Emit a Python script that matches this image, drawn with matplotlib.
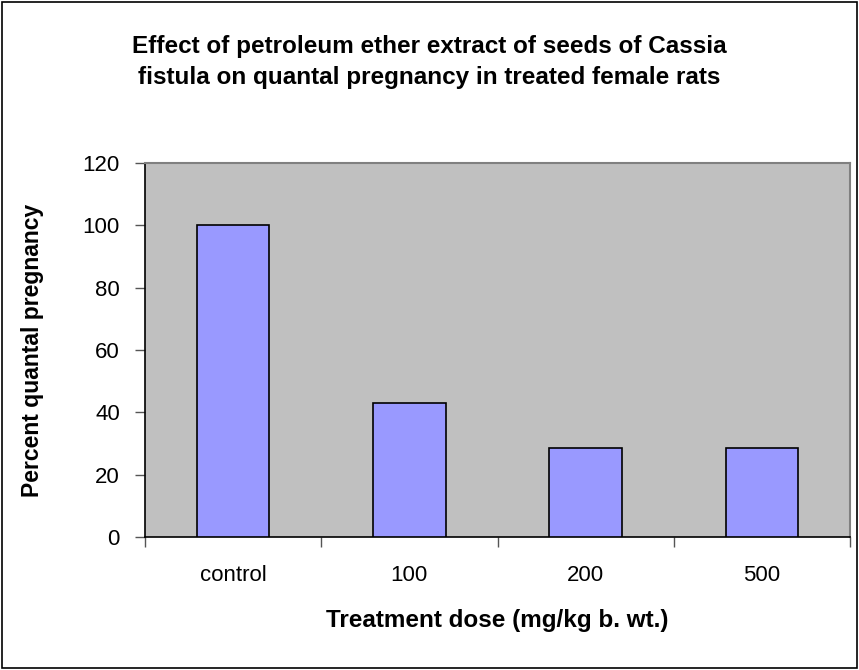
import numpy as np
import matplotlib.pyplot as plt
from matplotlib.patches import Rectangle

# Quantal pregnancy data
doses = ["control", "100", "200", "500"]
pregnancy = [100, 42.86, 28.57, 28.57]
y_ticks = [0, 20, 40, 60, 80, 100, 120]

plt.rcParams['font.family'] = ['Liberation Sans', 'DejaVu Sans']

fig = plt.figure(figsize=(8.59, 6.70), dpi=100)
ax = fig.add_axes([145 / 859, 1 - 537 / 670, 705 / 859, 374 / 670])

x = np.arange(len(doses))
ax.bar(x, pregnancy, width=0.41, color="#9999FF", edgecolor="black", linewidth=1.2, zorder=3)

ax.set_facecolor("#C0C0C0")
ax.set_xlim(-0.5, len(doses) - 0.5)
ax.set_ylim(0, 120)
ax.set_yticks(y_ticks)
ax.tick_params(axis="y", labelsize=16, length=7, width=1, color="#555555", pad=11)

# boundaries as major ticks, labels at centres
ax.set_xticks(np.arange(len(doses) + 1) - 0.5)
ax.set_xticklabels([])
ax.set_xticks(x, minor=True)
ax.set_xticklabels(doses, minor=True)
ax.tick_params(axis="x", which="major", length=7, width=1, color="#555555")
ax.tick_params(axis="x", which="minor", length=0, labelsize=16, pad=20)

for side in ["left", "bottom"]:
    ax.spines[side].set_color("black")
    ax.spines[side].set_linewidth(1.2)
for side in ["top", "right"]:
    ax.spines[side].set_color("#808080")
    ax.spines[side].set_linewidth(1.5)

ax.set_ylabel("Percent quantal pregnancy", fontsize=16.5, fontweight="bold", labelpad=28)
ax.set_xlabel("Treatment dose (mg/kg b. wt.)", fontsize=17.5, fontweight="bold", labelpad=17)

fig.text(0.5, 1 - 62 / 670,
         "Effect of petroleum ether extract of seeds of Cassia\nfistula on quantal pregnancy in treated female rats",
         ha="center", va="center", fontsize=17.5, fontweight="bold", linespacing=1.4)

# outer chart border
fig.patches.append(Rectangle((2 / 859, 2 / 670), 855 / 859, 666 / 670, transform=fig.transFigure,
                             fill=False, edgecolor="black", linewidth=1.2))

fig.savefig("out.png", dpi=100)
